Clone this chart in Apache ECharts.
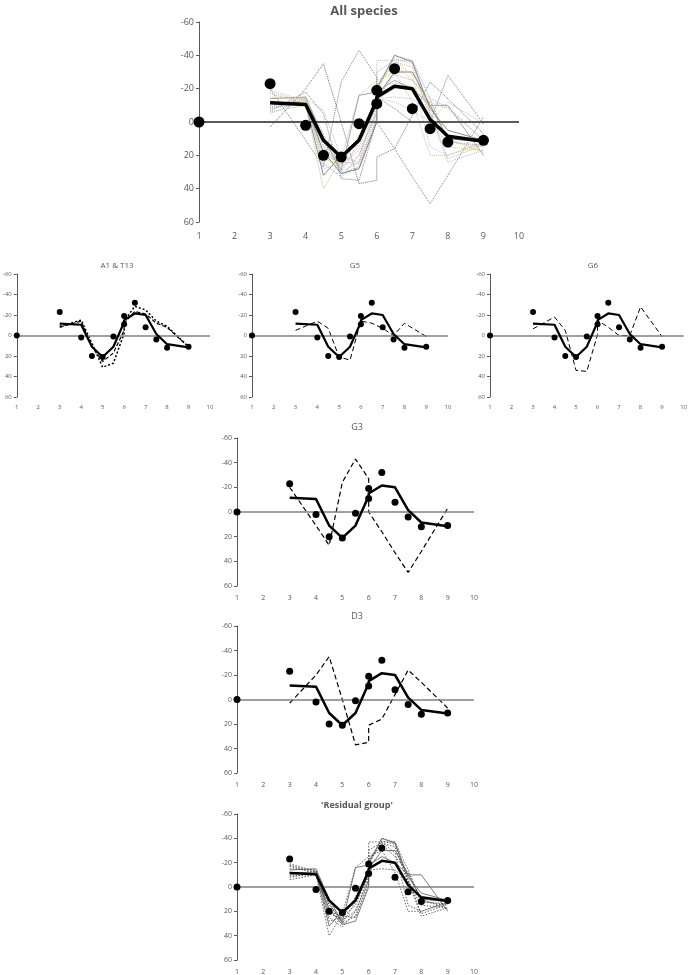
<!DOCTYPE html>
<html>
<head>
<meta charset="utf-8">
<script src="https://cdn.jsdelivr.net/npm/echarts@6/dist/echarts.min.js"></script>
<style>
  html, body { margin: 0; padding: 0; background: #fff; }
  #chart { width: 690px; height: 975px; }
</style>
</head>
<body>
<div id="chart"></div>
<script>
// x positions of the profile points (two readings at 6)
var xs = [3, 4, 4.5, 5, 5.5, 6, 6, 6.5, 7, 7.5, 8, 9];
// observed points (black dots)
var dotX = [1, 3, 4, 4.5, 5, 5.5, 6, 6, 6.5, 7, 7.5, 8, 9];
var dotY = [0, -23, 2, 20, 21, 1, -19, -11, -32, -8, 4, 12, 11];
// mean curve (thick black line)
var meanY = [-11.5, -10.5, 11, 21, 11, -13, -15, -21.5, -20, -1.5, 8.5, 11.5];

// species curves
var a1 = [-9, -15, 7.5, 31, 27, -2, -14, -28.5, -25, -14, -9, 11];
var t13 = [-8, -14, 11, 25.5, 17, -5, -12, -23.5, -21, -12, -8, 11];
var g5 = [-5, -14, -7, 21, 24, -14, -14, -12, -7, 0, -12, 1];
var g6 = [-6.5, -18, -5, 34, 35, -1, -15, -8, 0, 0, -28, 1];
var g3 = [-20, 11, 27, -24, -43, -27, 0, 16, 33, 49, 32, -3];
var d3 = [3, -20, -35, 0, 37, 35, 21, 16, -4, -24, -14, 7];

// 'residual group' curves
var r1 = [-18, -12, 15, 27, 20, -8, -22, -38, -35, -5, 12, 15];
var r2 = [-15, -14, 12, 30, 24, -5, -20, -36, -33, -3, 15, 17];
var r3 = [-6, -10, 40, 22, -16, -25, -25, -30, -12, 20, 20, 13];
var r4 = [-12, -11, 18, 31, 28, 0, -15, -30, -30, -10, 10, 12];
var r5 = [-10, -13, 22, 26, 8, -12, -22, -35, -25, -12, 10, 18];
var r6 = [-8, -12, 25, 33, 20, -6, -30, -37, -37, -14, 12, 14];
var r7 = [-14, -15, 10, 29, -16, -18, -18, -25, -20, -10, -10, 20];
var r8 = [-17, -11, 20, 24, 25, -2, -18, -40, -37, -6, 22, 14];
var r9 = [-9, -10, 14, 30, 12, -9, -14, -15, -14, -5, 24, 17];
var r10 = [-19, -13, 28, 25, 15, -10, -37, -37, -28, 15, 20, 12];
var r11 = [-12, -11, 32, 20, 10, -15, -20, -40, -36, -8, 5, 11];

var residual = [r1, r2, r3, r4, r5, r6, r7, r8, r9, r10, r11];
var resStyle = ['dotted', 'dotted', 'dotted', 'solid', 'dotted', 'dotted', 'solid', 'dotted', 'dotted', 'dotted', 'solid'];

var xTicks = [1, 2, 3, 4, 5, 6, 7, 8, 9, 10];
var yTicks = [-60, -40, -20, 0, 20, 40, 60];

function pairs(xv, yv) {
    var out = [];
    for (var i = 0; i < yv.length; i++) out.push([xv[i], yv[i]]);
    return out;
}

// panels: plot area in pixels
var panels = [
    { title: 'All species', left: 199, top: 22, width: 320, height: 200, tx: 359, ty: 0, tsize: 13, bold: true, fs: 9, dot: 11, mw: 3.5, zw: 2 },
    { title: 'A1 & T13', left: 14, top: 274, width: 196, height: 123, tx: 112, ty: 257, tsize: 8, bold: false, fs: 6, dot: 6, mw: 2.2, zw: 1.5 },
    { title: 'G5', left: 252, top: 274, width: 196, height: 123, tx: 350, ty: 257, tsize: 8, bold: false, fs: 6, dot: 6, mw: 2.2, zw: 1.5 },
    { title: 'G6', left: 490, top: 274, width: 196, height: 123, tx: 588, ty: 257, tsize: 8, bold: false, fs: 6, dot: 6, mw: 2.2, zw: 1.5 },
    { title: 'G3', left: 237, top: 438, width: 237, height: 148, tx: 352, ty: 418, tsize: 9, bold: false, fs: 7, dot: 7, mw: 2.5, zw: 1.5 },
    { title: 'D3', left: 237, top: 626, width: 237, height: 147, tx: 352, ty: 607, tsize: 9, bold: false, fs: 7, dot: 7, mw: 2.5, zw: 1.5 },
    { title: "'Residual group'", left: 237, top: 814, width: 237, height: 148, tx: 352, ty: 796, tsize: 9, bold: true, fs: 7, dot: 7, mw: 2.5, zw: 1.5 }
];

var grids = [], xAxes = [], yAxes = [], titles = [], series = [];

panels.forEach(function (p, k) {
    grids.push({ left: p.left, top: p.top, width: p.width, height: p.height });
    titles.push({
        text: p.title, left: p.tx, top: p.ty, textAlign: 'center',
        textStyle: { fontSize: p.tsize, fontWeight: p.bold ? 'bold' : 'normal', color: '#595959', fontFamily: 'Open Sans' }
    });
    xAxes.push({
        type: 'value', gridIndex: k, min: 1, max: 10, interval: 1,
        axisLine: { show: false }, axisTick: { show: false }, splitLine: { show: false },
        axisLabel: { fontSize: p.fs, color: '#595959', margin: p.fs + 1, fontFamily: 'Open Sans' }
    });
    yAxes.push({
        type: 'value', gridIndex: k, min: -60, max: 60, interval: 20, inverse: true,
        axisLine: { show: true, lineStyle: { color: '#595959', width: 1 } },
        axisTick: { show: true, length: 3, lineStyle: { color: '#595959' } },
        splitLine: { show: false },
        axisLabel: { fontSize: p.fs, color: '#595959', margin: 5, fontFamily: 'Open Sans' }
    });
});

function line(k, yv, color, width, type, z) {
    series.push({
        type: 'line', xAxisIndex: k, yAxisIndex: k, data: pairs(xs, yv),
        symbol: 'none', silent: true, z: z || 2,
        lineStyle: { color: color, width: width, type: type, opacity: 1 }
    });
}

// zero line + mean + dots for every panel
function base(k) {
    var p = panels[k];
    series.push({
        type: 'line', xAxisIndex: k, yAxisIndex: k, data: pairs(xs, meanY),
        symbol: 'none', silent: true, z: 5,
        lineStyle: { color: '#000', width: p.mw },
        markLine: {
            silent: true, symbol: 'none', label: { show: false },
            lineStyle: { color: k === 0 ? '#595959' : '#7f7f7f', width: p.zw, type: 'solid', opacity: 1 },
            data: [{ yAxis: 0 }]
        }
    });
    series.push({
        type: 'scatter', xAxisIndex: k, yAxisIndex: k, data: pairs(dotX, dotY),
        symbolSize: p.dot, itemStyle: { color: '#000', opacity: 1 }, silent: true, z: 6
    });
}

// All species panel
var mainColors = ['#8faadc', '#f4b183', '#bfbfbf', '#7f7f7f', '#808080', '#707070'];
var mainTypes = ['dotted', 'dotted', 'dotted', 'dotted', 'dotted', 'dotted'];
[a1, t13, g5, g6, g3, d3].forEach(function (s, i) { line(0, s, mainColors[i], 1, mainTypes[i]); });
var resColors = ['#b4c7e7', '#c9c07a', '#b8c98a', '#7f7f7f', '#ffc000', '#8faadc', '#a5a5a5', '#d6b38a', '#9dc3e6', '#bfbfbf', '#8c8c8c'];
residual.forEach(function (s, i) { line(0, s, resColors[i], 1, resStyle[i]); });
base(0);

// A1 & T13
line(1, a1, '#000', 1.5, [2, 2]);
line(1, t13, '#000', 1.2, [4, 2]);
base(1);
// G5, G6, G3, D3
line(2, g5, '#000', 1, [5, 3]); base(2);
line(3, g6, '#000', 1, [5, 3]); base(3);
line(4, g3, '#000', 1.2, [5, 3]); base(4);
line(5, d3, '#000', 1.2, [5, 3]); base(5);
// residual group
residual.forEach(function (s, i) {
    line(6, s, resStyle[i] === 'solid' ? '#595959' : '#404040', 0.8, resStyle[i] === 'solid' ? 'solid' : [1.5, 1.5]);
});
base(6);

var chart = echarts.init(document.getElementById('chart'));
chart.setOption({
    animation: false,
    backgroundColor: '#fff',
    title: titles,
    grid: grids,
    xAxis: xAxes,
    yAxis: yAxes,
    series: series
});
</script>
</body>
</html>
